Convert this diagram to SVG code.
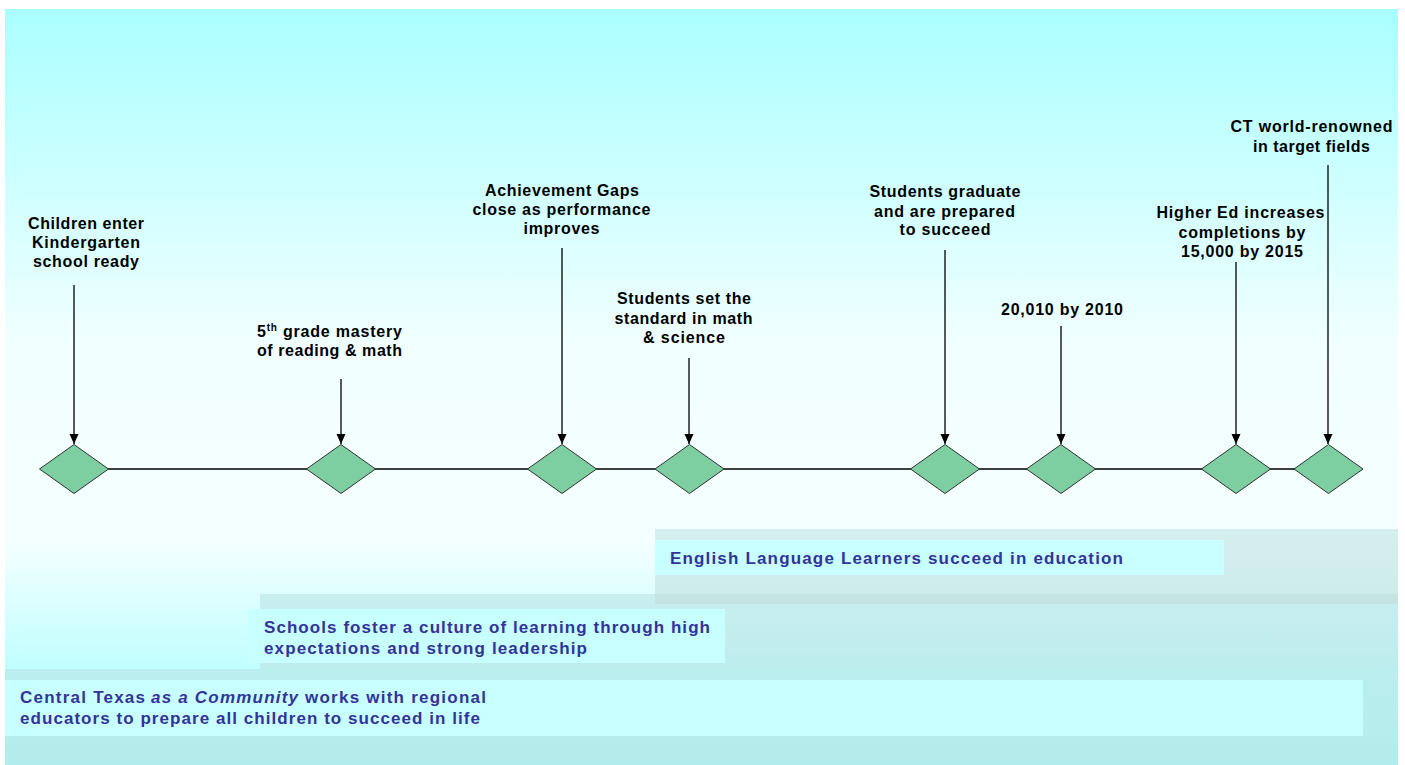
<svg xmlns="http://www.w3.org/2000/svg" width="1405" height="765" viewBox="0 0 1405 765">
  <defs>
    <linearGradient id="gBg" x1="0" y1="0" x2="0" y2="1">
      <stop offset="0" stop-color="#aaffff"/>
      <stop offset="0.22" stop-color="#cdffff"/>
      <stop offset="0.45" stop-color="#f2ffff"/>
      <stop offset="0.7" stop-color="#f5ffff"/>
      <stop offset="0.87" stop-color="#c2ffff"/>
      <stop offset="1" stop-color="#b2f4f4"/>
    </linearGradient>
    <linearGradient id="gTop" x1="0" y1="0" x2="0" y2="1">
      <stop offset="0" stop-color="#d5efef"/>
      <stop offset="1" stop-color="#cdebeb"/>
    </linearGradient>
    <linearGradient id="gMid" x1="0" y1="0" x2="0" y2="1">
      <stop offset="0" stop-color="#c9eeee"/>
      <stop offset="1" stop-color="#bdeded"/>
    </linearGradient>
    <linearGradient id="gBot" x1="0" y1="0" x2="0" y2="1">
      <stop offset="0" stop-color="#bbeeee"/>
      <stop offset="1" stop-color="#b3ecec"/>
    </linearGradient>
    <marker id="arr" markerUnits="userSpaceOnUse" viewBox="0 0 10 10" refX="10" refY="5" markerWidth="10" markerHeight="10" orient="auto">
      <path d="M0,0.5 L10,5 L0,9.5 z" fill="#000"/>
    </marker>
    <style>
      .lbl { font-family: "Liberation Sans", Arial, sans-serif; font-weight: bold; font-size: 16px; fill: #000; text-anchor: middle; }
      .band { font-family: "Liberation Sans", Arial, sans-serif; font-weight: bold; font-size: 17px; fill: #333399; }
      .ital { font-style: italic; }
      .dia { fill: #7dcfa1; stroke: #333; stroke-width: 1; }
      .conn { stroke: #000; stroke-width: 1.3; fill: none; }
      .inner { fill: #c8ffff; }
    </style>
  </defs>

  <rect x="0" y="0" width="1405" height="765" fill="#ffffff"/>
  <rect x="5" y="9" width="1393" height="756" fill="url(#gBg)"/>

  <!-- bands -->
  <g id="bands">
    <rect x="5" y="669" width="1393" height="96" fill="url(#gBot)"/>
    <rect x="260" y="594" width="1138" height="75" fill="url(#gMid)"/>
    <rect x="655" y="529" width="743" height="75" fill="url(#gTop)"/>
    <rect x="655" y="594" width="743" height="10" fill="#c4e4e4"/>
  </g>

  <g id="band-ell">
    <rect class="inner" x="655" y="540" width="569" height="35"/>
    <text class="band" x="670" y="564" textLength="453" lengthAdjust="spacing">English Language Learners succeed in education</text>
  </g>
  <g id="band-schools">
    <rect class="inner" x="248" y="609" width="477" height="54"/>
    <text class="band" x="264" y="633" textLength="446" lengthAdjust="spacing">Schools foster a culture of learning through high</text>
    <text class="band" x="264" y="654" textLength="323" lengthAdjust="spacing">expectations and strong leadership</text>
  </g>
  <g id="band-community">
    <rect class="inner" x="5" y="680" width="1358" height="56"/>
    <text class="band" y="703"><tspan x="20" textLength="125" lengthAdjust="spacing">Central Texas</tspan><tspan class="ital" x="151" textLength="147" lengthAdjust="spacing">as a Community</tspan><tspan x="305" textLength="181" lengthAdjust="spacing">works with regional</tspan></text>
    <text class="band" x="20" y="724" textLength="460" lengthAdjust="spacing">educators to prepare all children to succeed in life</text>
  </g>

  <!-- connectors -->
  <g id="connectors">
    <line class="conn" x1="74" y1="469" x2="1328" y2="469"/>
    <line class="conn" x1="74" y1="285" x2="74" y2="444" marker-end="url(#arr)"/>
    <line class="conn" x1="341" y1="379" x2="341" y2="444" marker-end="url(#arr)"/>
    <line class="conn" x1="562" y1="248" x2="562" y2="444" marker-end="url(#arr)"/>
    <line class="conn" x1="689" y1="358" x2="689" y2="444" marker-end="url(#arr)"/>
    <line class="conn" x1="945" y1="250" x2="945" y2="444" marker-end="url(#arr)"/>
    <line class="conn" x1="1061" y1="326" x2="1061" y2="444" marker-end="url(#arr)"/>
    <line class="conn" x1="1236" y1="262" x2="1236" y2="444" marker-end="url(#arr)"/>
    <line class="conn" x1="1328" y1="165" x2="1328" y2="444" marker-end="url(#arr)"/>
  </g>

  <!-- milestone nodes -->
  <g id="m1">
    <polygon class="dia" points="39.5,469 74,444.5 108.5,469 74,493.5"/>
    <text class="lbl" x="86" y="229" textLength="116" lengthAdjust="spacing">Children enter</text>
    <text class="lbl" x="86" y="248" textLength="108" lengthAdjust="spacing">Kindergarten</text>
    <text class="lbl" x="86" y="267" textLength="106" lengthAdjust="spacing">school ready</text>
  </g>
  <g id="m2">
    <polygon class="dia" points="306.5,469 341,444.5 375.5,469 341,493.5"/>
    <text class="lbl" x="257" y="337" style="text-anchor:start;letter-spacing:0.8px">5<tspan font-size="10" dy="-6">th</tspan><tspan dy="6"> grade mastery</tspan></text>
    <text class="lbl" x="329.5" y="356" textLength="145" lengthAdjust="spacing">of reading &amp; math</text>
  </g>
  <g id="m3">
    <polygon class="dia" points="527.5,469 562,444.5 596.5,469 562,493.5"/>
    <text class="lbl" x="562" y="196" textLength="154" lengthAdjust="spacing">Achievement Gaps</text>
    <text class="lbl" x="561.5" y="215" textLength="178" lengthAdjust="spacing">close as performance</text>
    <text class="lbl" x="561.5" y="234" textLength="76" lengthAdjust="spacing">improves</text>
  </g>
  <g id="m4">
    <polygon class="dia" points="655,469 689.5,444.5 724,469 689.5,493.5"/>
    <text class="lbl" x="684" y="304" textLength="134" lengthAdjust="spacing">Students set the</text>
    <text class="lbl" x="683.5" y="324" textLength="138" lengthAdjust="spacing">standard in math</text>
    <text class="lbl" x="684" y="343" textLength="82" lengthAdjust="spacing">&amp; science</text>
  </g>
  <g id="m5">
    <polygon class="dia" points="910.5,469 945,444.5 979.5,469 945,493.5"/>
    <text class="lbl" x="945" y="197" textLength="151" lengthAdjust="spacing">Students graduate</text>
    <text class="lbl" x="944.5" y="217" textLength="141" lengthAdjust="spacing">and are prepared</text>
    <text class="lbl" x="945" y="235" textLength="91" lengthAdjust="spacing">to succeed</text>
  </g>
  <g id="m6">
    <polygon class="dia" points="1026.5,469 1061,444.5 1095.5,469 1061,493.5"/>
    <text class="lbl" x="1062" y="315" textLength="122" lengthAdjust="spacing">20,010 by 2010</text>
  </g>
  <g id="m7">
    <polygon class="dia" points="1201.5,469 1236,444.5 1270.5,469 1236,493.5"/>
    <text class="lbl" x="1240.5" y="218" textLength="168" lengthAdjust="spacing">Higher Ed increases</text>
    <text class="lbl" x="1242" y="238" textLength="127" lengthAdjust="spacing">completions by</text>
    <text class="lbl" x="1242" y="257" textLength="122" lengthAdjust="spacing">15,000 by 2015</text>
  </g>
  <g id="m8">
    <polygon class="dia" points="1294,469 1328.5,444.5 1363,469 1328.5,493.5"/>
    <text class="lbl" x="1311.5" y="132" textLength="162" lengthAdjust="spacing">CT world-renowned</text>
    <text class="lbl" x="1311.5" y="152" textLength="117" lengthAdjust="spacing">in target fields</text>
  </g>
</svg>
